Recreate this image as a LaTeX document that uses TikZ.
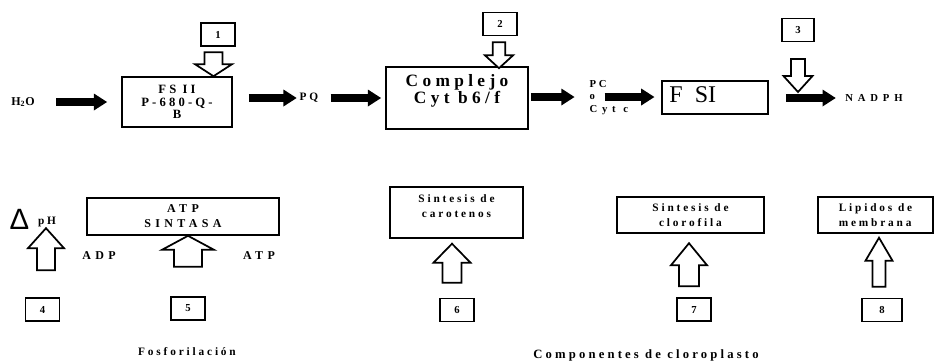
\documentclass[tikz,border=0pt]{standalone}
\usepackage{fontspec}
\setmainfont{Liberation Serif}
\newfontfamily\letra[LetterSpace=25]{Liberation Serif}
\newfontfamily\letramedia[LetterSpace=36]{Liberation Serif}
\newfontfamily\letraancha[LetterSpace=45]{Liberation Serif}
\newfontfamily\simbolo{Liberation Sans}
\usetikzlibrary{arrows.meta,calc,positioning}

% flecha hueca: punta, sentido (1 arriba, -1 abajo), largo, medio cuerpo, media cabeza, largo cabeza
\newcommand{\flechaHueca}[6]{%
  \begin{scope}[shift={#1}, yscale=#2]
    \draw[hueca] (0,0) -- (#5,#6) -- (#4,#6) -- (#4,#3) -- (-#4,#3) -- (-#4,#6) -- (-#5,#6) -- cycle;
  \end{scope}}

\begin{document}
\begin{tikzpicture}[x=0.75pt, y=-0.75pt,
  caja/.style={draw, line width=1.2pt, inner sep=0pt, align=center, font=\letra\bfseries\fontsize{8.5}{11}\selectfont},
  num/.style={draw, line width=1.2pt, minimum width=25.5pt, minimum height=17.25pt, inner sep=0pt, font=\letra\bfseries\fontsize{8}{8}\selectfont},
  txt/.style={inner sep=1pt, align=center, font=\letra\bfseries\fontsize{8.5}{11.25}\selectfont},
  flecha/.style={line width=5.5pt, -{Triangle[length=10pt,width=12pt]}},
  hueca/.style={draw, line width=1.3pt, fill=white, line join=miter}]
\useasboundingbox (0,0) rectangle (938,362);

% cadena de transporte
\node[txt, font=\letra\bfseries\fontsize{9}{10}\selectfont] (h2o) at (23,102) {H\textsubscript{2}O};
\node[caja, minimum width=82.5pt, minimum height=37.5pt, font=\letra\bfseries\fontsize{9.5}{9.2}\selectfont] (fs2) at (177,102) {FS II\\P-680-Q-\\B};
\node[txt] (pq) at (309,98) {PQ};
\node[caja, minimum width=106.5pt, minimum height=46.5pt,
  label={[txt, font=\letra\bfseries\fontsize{13}{12.75}\selectfont, yshift=5pt]center:{Complejo\\Cyt b6/f}}] (cyt) at (457,98) {};
\node[txt, anchor=west, font=\letra\bfseries\fontsize{8}{9}\selectfont] (pc) at (588,84) {PC};
\node[txt, anchor=west, font=\letra\bfseries\fontsize{8}{9}\selectfont] (po) at (588,97) {o};
\node[txt, anchor=west, font=\letraancha\bfseries\fontsize{8}{9}\selectfont] (cytc) at (588,110) {Cyt c};
\node[caja, minimum width=79.5pt, minimum height=24.75pt,
  label={[anchor=west, inner sep=0pt, font=\fontsize{18}{18}\selectfont, xshift=6pt, yshift=2pt]west:F\enspace SI}] (fs1) at (715,97.5) {};
\node[txt, font=\letraancha\bfseries\fontsize{8}{9}\selectfont] (nadph) at (874,98) {NADPH};

\node[num] (n1) at (218,34.5) {1};
\node[num] (n2) at (500,24) {2};
\node[num, minimum width=24pt] (n3) at (798,30) {3};

% fila inferior
\node[inner sep=0pt, font=\simbolo\fontsize{22}{22}\selectfont] (delta) at (19.5,219) {Δ};
\node[txt, font=\letra\bfseries\fontsize{8.5}{9}\selectfont] (ph) at (47,222) {pH};
\node[caja, minimum width=144pt, minimum height=27.75pt, font=\letramedia\bfseries\fontsize{9}{11.25}\selectfont] (atp) at (183,216.5) {ATP\\SINTASA};
\node[txt, font=\letramedia\bfseries\fontsize{9}{11}\selectfont] (adp) at (99,256) {ADP};
\node[txt, font=\letramedia\bfseries\fontsize{9}{11}\selectfont] (atpt) at (259,256) {ATP};
\node[caja, minimum width=99.75pt, minimum height=38.25pt,
  label={[txt, yshift=5pt]center:{Sintesis de\\carotenos}}] (carot) at (456.5,212.5) {};
\node[caja, minimum width=110.25pt, minimum height=27pt] (cloro) at (690.5,215) {Sintesis de\\clorofila};
\node[caja, minimum width=86.25pt, minimum height=27pt, align=left] (lip) at (875.5,215) {Lipidos de\\membrana};

\node[num] (n4) at (42.5,309.5) {4};
\node[num] (n5) at (188,308.5) {5};
\node[num] (n6) at (457,310) {6};
\node[num] (n7) at (694,309.5) {7};
\node[num, minimum width=30pt] (n8) at (882,310) {8};

\node[txt] (fosfo) at (187,352) {Fosforilación};
\node[txt, font=\letra\bfseries\fontsize{9.5}{11}\selectfont] (compo) at (646,355) {Componentes de cloroplasto};

% flechas negras
\draw[flecha, shorten <=15pt, shorten >=10.5pt] (h2o) -- (fs2);
\draw[flecha, shorten <=12pt, shorten >=1pt] (fs2.east |- pq) -- (pq);
\draw[flecha, shorten <=8pt, shorten >=3pt] (pq) -- (pq -| cyt.west);
\draw[flecha, shorten <=1.5pt, shorten >=10pt] (cyt.east |- po) -- (po);
\draw[flecha, shorten <=6pt, shorten >=5pt] (po) -- (po -| fs1.west);
\draw[flecha, shorten <=12.75pt, shorten >=6pt] (fs1.east |- nadph) -- (nadph);

% flechas huecas
\flechaHueca{($(n1 |- fs2.north)+(-4.5,0)$)}{-1}{24}{9}{18.5}{12}
\flechaHueca{($(n2 |- cyt.north)+(-1,2)$)}{-1}{26}{6.3}{14.2}{13}
\flechaHueca{($(n3 |- fs1.east)+(0,-5.5)$)}{-1}{33}{7}{14.5}{16}
\flechaHueca{($(n4.north)+(3.5,-69)$)}{1}{42}{9}{18}{20}
\flechaHueca{(n5 |- atp.south)}{1}{31}{14}{26}{14}
\flechaHueca{($(n6.north)+(-5,-54)$)}{1}{39}{9.5}{18.5}{19}
\flechaHueca{($(n7.north)+(-5,-54)$)}{1}{43}{10}{18}{22}
\flechaHueca{($(n8.north)+(-3,-60)$)}{1}{49}{6.5}{13.5}{23}
\end{tikzpicture}
\end{document}
